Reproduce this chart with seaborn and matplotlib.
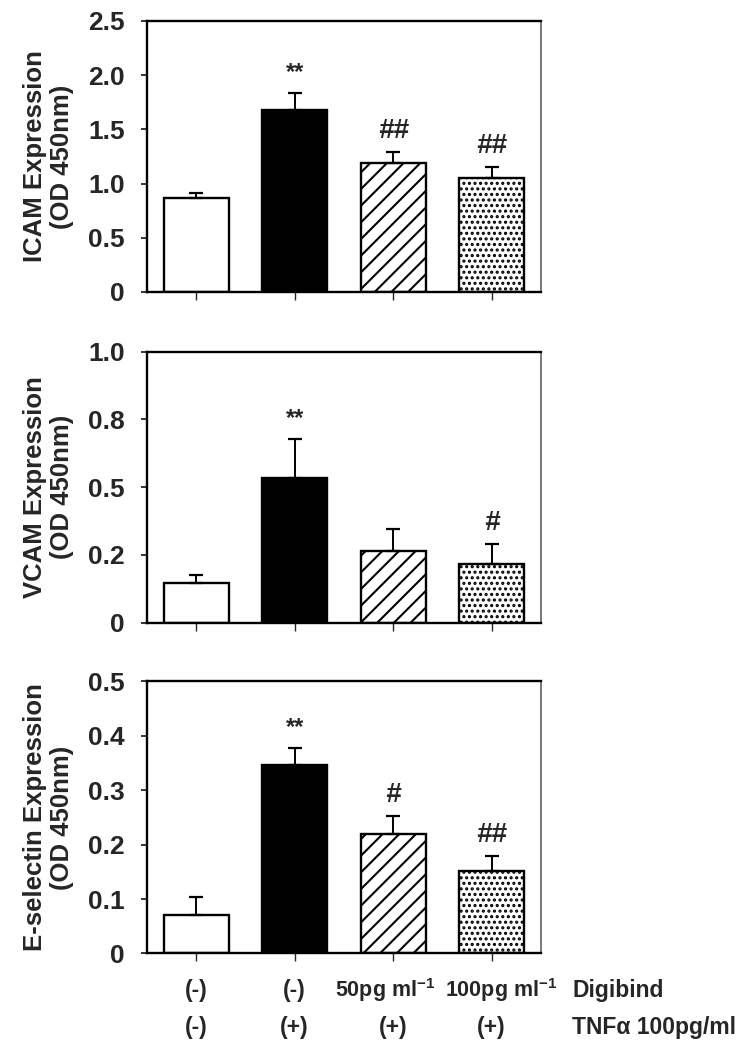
import numpy as np
import pandas as pd
import matplotlib
matplotlib.use('Agg')
import matplotlib.pyplot as plt
import matplotlib.transforms as mtransforms
import seaborn as sns

sns.set_style('ticks')
plt.rcParams['font.family'] = ['Liberation Sans', 'DejaVu Sans']
plt.rcParams['font.weight'] = 'bold'
plt.rcParams['mathtext.fontset'] = 'custom'
plt.rcParams['mathtext.bf'] = 'Liberation Sans:bold'
plt.rcParams['mathtext.rm'] = 'Liberation Sans:bold'
plt.rcParams['mathtext.default'] = 'bf'
plt.rcParams['hatch.linewidth'] = 1.5

groups = ['ctrl', 'TNF', 'TNF+Dig50', 'TNF+Dig100']
digibind = ['(-)', '(-)', '50pg ml$^{-1}$', '100pg ml$^{-1}$']
tnf = ['(-)', '(+)', '(+)', '(+)']

icam = [0.87, 1.68, 1.19, 1.05]
icam_err = [0.04, 0.16, 0.10, 0.10]
icam_sig = ['', '**', '##', '##']

vcam = [0.148, 0.535, 0.266, 0.218]
vcam_err = [0.029, 0.144, 0.081, 0.072]
vcam_sig = ['', '**', '', '#']

esel = [0.071, 0.347, 0.219, 0.151]
esel_err = [0.033, 0.031, 0.033, 0.028]
esel_sig = ['', '**', '#', '##']

fills = ['white', 'black', 'white', 'white']
hatches = ['', '', '//', '...']

panels = [
    ('ICAM Expression\n(OD 450nm)', icam, icam_err, icam_sig,
     [0, 0.5, 1.0, 1.5, 2.0, 2.5], ['0', '0.5', '1.0', '1.5', '2.0', '2.5'], 2.5),
    ('VCAM Expression\n(OD 450nm)', vcam, vcam_err, vcam_sig,
     [0, 0.25, 0.5, 0.75, 1.0], ['0', '0.2', '0.5', '0.8', '1.0'], 1.0),
    ('E-selectin Expression\n(OD 450nm)', esel, esel_err, esel_sig,
     [0, 0.1, 0.2, 0.3, 0.4, 0.5], ['0', '0.1', '0.2', '0.3', '0.4', '0.5'], 0.5),
]

fig = plt.figure(figsize=(7.46, 10.5), dpi=100)
rects = [[0.197, 0.722, 0.528, 0.258],
         [0.197, 0.407, 0.528, 0.258],
         [0.197, 0.092, 0.528, 0.259]]

for rect, (label, vals, errs, sig, ticks, ticklabels, ymax) in zip(rects, panels):
    ax = fig.add_axes(rect)
    df = pd.DataFrame({'group': groups, 'value': vals})
    sns.barplot(data=df, x='group', y='value', order=groups, color='white',
                width=0.66, edgecolor='black', linewidth=1.7, ax=ax)
    for patch, fc, h in zip(ax.patches, fills, hatches):
        patch.set_facecolor(fc)
        patch.set_hatch(h)
    x = np.arange(len(groups))
    ax.errorbar(x, vals, yerr=[np.zeros(len(vals)), errs], fmt='none',
                ecolor='black', elinewidth=1.4, capsize=5, capthick=1.6)
    for i, s in enumerate(sig):
        if s:
            is_hash = '#' in s
            ax.annotate(s, (x[i], vals[i] + errs[i]), xytext=(0, 6),
                        textcoords='offset points', ha='center', va='bottom',
                        fontsize=20 if is_hash else 17, fontweight='bold',
                        fontstyle='italic' if is_hash else 'normal')
    ax.set_xlim(-0.5, 3.5)
    ax.set_ylim(0, ymax)
    ax.set_yticks(ticks)
    ax.set_yticklabels(ticklabels, fontsize=19, fontweight='bold')
    ax.set_xticks(x)
    ax.set_xticklabels([])
    ax.set_xlabel('')
    ax.set_ylabel(label, fontsize=18.5, fontweight='bold', labelpad=10,
                  linespacing=1.15)
    ax.tick_params(axis='y', direction='out', length=4, width=1.3, pad=12)
    ax.tick_params(axis='x', direction='out', length=6, width=1.0)
    for side in ['left', 'bottom', 'top']:
        ax.spines[side].set_linewidth(1.7)
        ax.spines[side].set_color('black')
    ax.spines['right'].set_linewidth(1.1)
    ax.spines['right'].set_color('#555555')

# condition rows under the bottom panel
trans = mtransforms.blended_transform_factory(ax.transData, ax.transAxes)
shift = [0, 0, -6, 7]
for i in range(len(groups)):
    ax.annotate(digibind[i], (i, -0.136), xycoords=trans, xytext=(shift[i], 0),
                textcoords='offset points', ha='center', va='center',
                fontsize=16.5 if i < 2 else 15.5, fontweight='bold')
    ax.text(i, -0.272, tnf[i], transform=trans, ha='center', va='center',
            fontsize=16.5, fontweight='bold')
ax.text(1.08, -0.136, 'Digibind', transform=ax.transAxes, ha='left',
        va='center', fontsize=16.5, fontweight='bold')
ax.text(1.08, -0.272, 'TNF\u03b1 100pg/ml', transform=ax.transAxes, ha='left',
        va='center', fontsize=16.5, fontweight='bold')

fig.savefig('out.png', dpi=100, facecolor='white')
